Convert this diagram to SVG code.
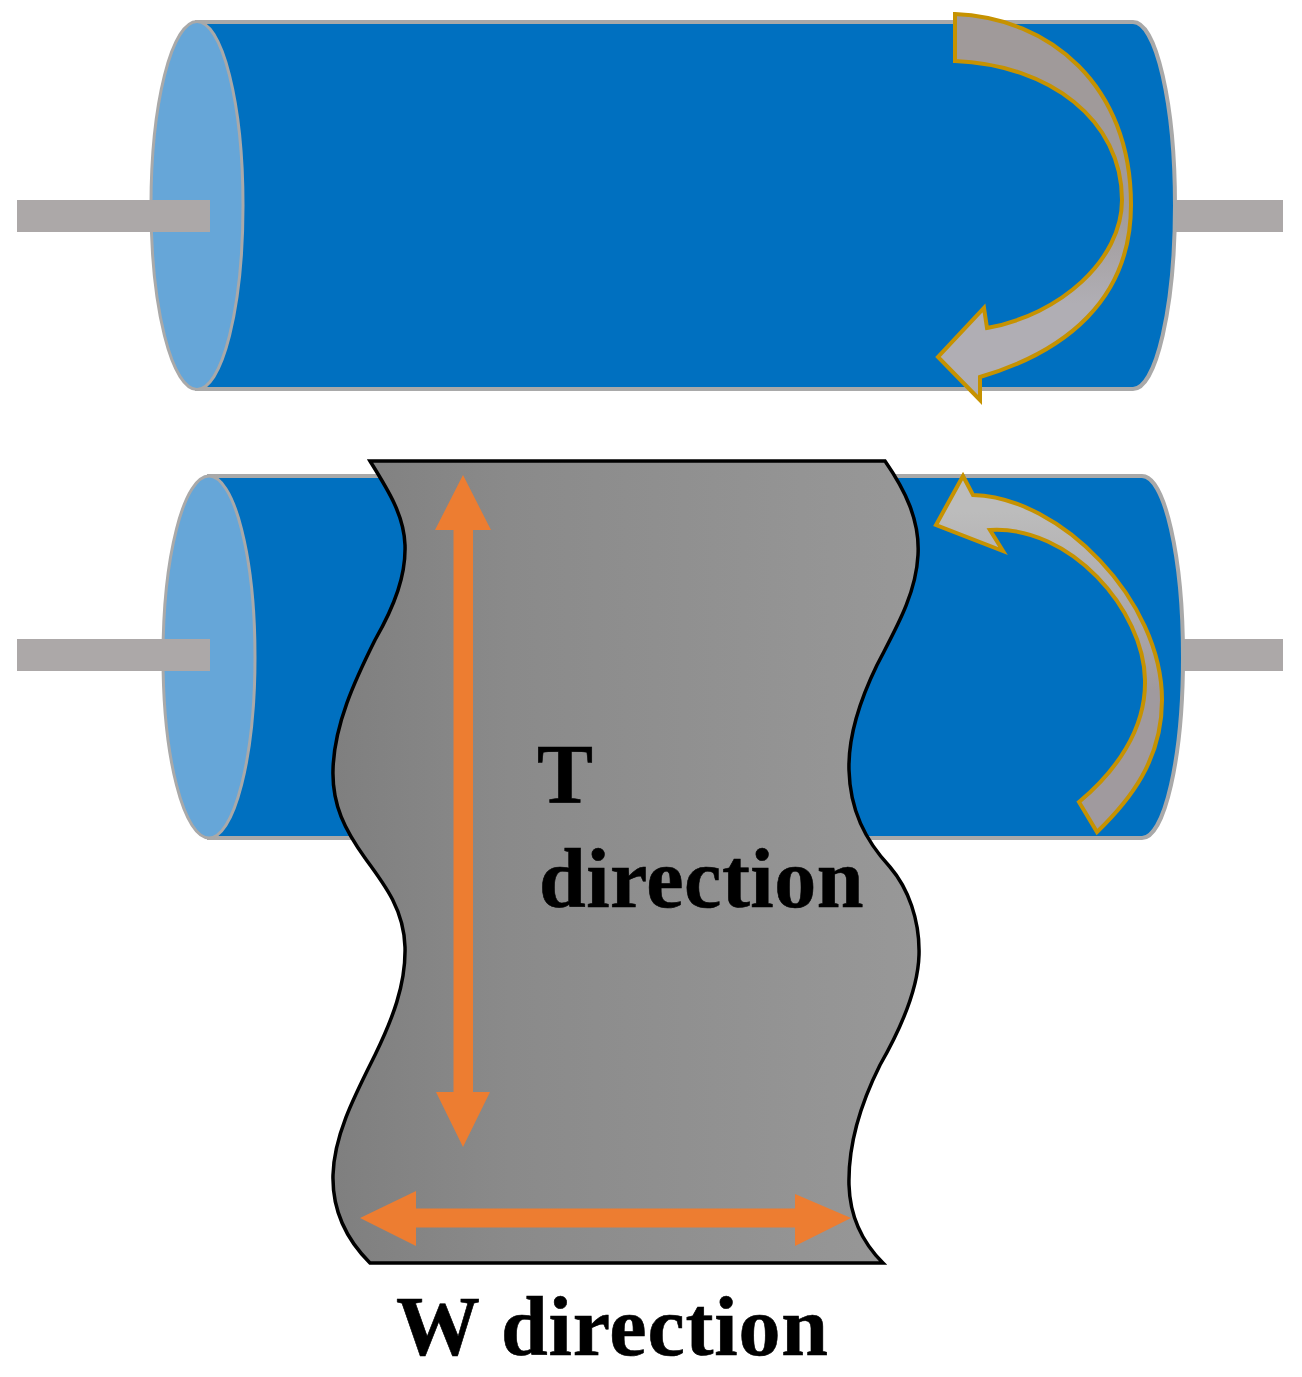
<svg xmlns="http://www.w3.org/2000/svg" width="1302" height="1377" viewBox="0 0 1302 1377">
<style>
.body{fill:#0070c0;stroke:#a9a9a9;stroke-width:4}
.cap{fill:#66a6d8;stroke:#a9a9a9;stroke-width:3}
.rod{fill:#aca8a8}
.turn{stroke:#c69200;stroke-width:4;stroke-linejoin:miter}
.orange{fill:#ed7d31}
.label{font-family:"Liberation Serif","Times New Roman",serif;font-weight:bold;font-size:84px;fill:#000;stroke:#000;stroke-width:.6}
</style>
<defs>
<linearGradient id="sheetFill" x1="0" y1="0" x2="1" y2="0">
<stop offset="0" stop-color="#7f7f7f"/><stop offset="0.3" stop-color="#8a8a8a"/><stop offset="1" stop-color="#989898"/>
</linearGradient>
<linearGradient id="turnTop" x1="0" y1="0" x2="0" y2="1">
<stop offset="0.5" stop-color="#a09a9a"/><stop offset="0.75" stop-color="#b0aeb4"/>
</linearGradient>
<linearGradient id="turnBottom" x1="0" y1="0" x2="0" y2="1">
<stop offset="0.1" stop-color="#bcbcbc"/><stop offset="0.6" stop-color="#a09a9e"/>
</linearGradient>
</defs>
<g id="roller-top">
<rect class="rod" x="1170" y="200" width="113" height="32"/>
<path class="body" d="M197 22H1133A42 183.500 0 0 1 1133 389H197Z"/>
<ellipse class="cap" cx="197" cy="205.500" rx="46" ry="184"/>
<rect class="rod" x="17" y="200" width="193" height="32"/>
<path class="turn" fill="url(#turnTop)" d="M955 14C1050 18 1131 85 1131 205C1131 300 1065 352 980 377L980 400L938 357L984 308L987 328C1060 315 1122 260 1122 200C1122 120 1050 65 955 61Z"/>
</g>
<g id="roller-bottom">
<rect class="rod" x="1180" y="639" width="103" height="32"/>
<path class="body" d="M209 476H1142A41 181 0 0 1 1142 838H209Z"/>
<ellipse class="cap" cx="209" cy="657" rx="46" ry="181"/>
<rect class="rod" x="17" y="639" width="193" height="32"/>
<path class="turn" fill="url(#turnBottom)" d="M963 476L973 495C1060 497 1162 600 1162 700C1162 760 1130 800 1097 832L1079 802C1115 772 1146 730 1145 680C1144 610 1070 525 990 530L1003 551L936 525Z"/>
</g>
<g id="sheet">
<path fill="url(#sheetFill)" stroke="#000" stroke-width="3.500" d="M370 461H885C905 490 920 520 918 555C916 595 895 630 877 665C860 700 848 735 849 770C850 810 865 840 890 867C908 888 920 920 919 955C918 990 900 1030 880 1065C860 1105 848 1145 849 1185C850 1220 865 1245 883 1263H370C350 1243 332 1215 333 1175C334 1135 355 1095 375 1055C392 1020 406 985 405 947C404 910 385 885 365 858C345 830 332 805 333 770C334 725 355 680 375 640C395 605 406 575 405 545C404 515 388 490 370 461Z"/>
</g>
<g id="connectors">
<path class="orange" d="M463 475L491 530H473V1092H490L463 1147L436 1092H453.500V530H435Z"/>
<path class="orange" d="M360 1218L416 1191V1208.500H795V1194L851 1218L795 1246V1227.500H416V1246Z"/>
</g>
<g id="labels">
<text class="label" x="537" y="803">T</text>
<text class="label" x="539" y="907" letter-spacing="0.500">direction</text>
<text class="label" x="396" y="1355" letter-spacing="0.800">W direction</text>
</g>
</svg>
